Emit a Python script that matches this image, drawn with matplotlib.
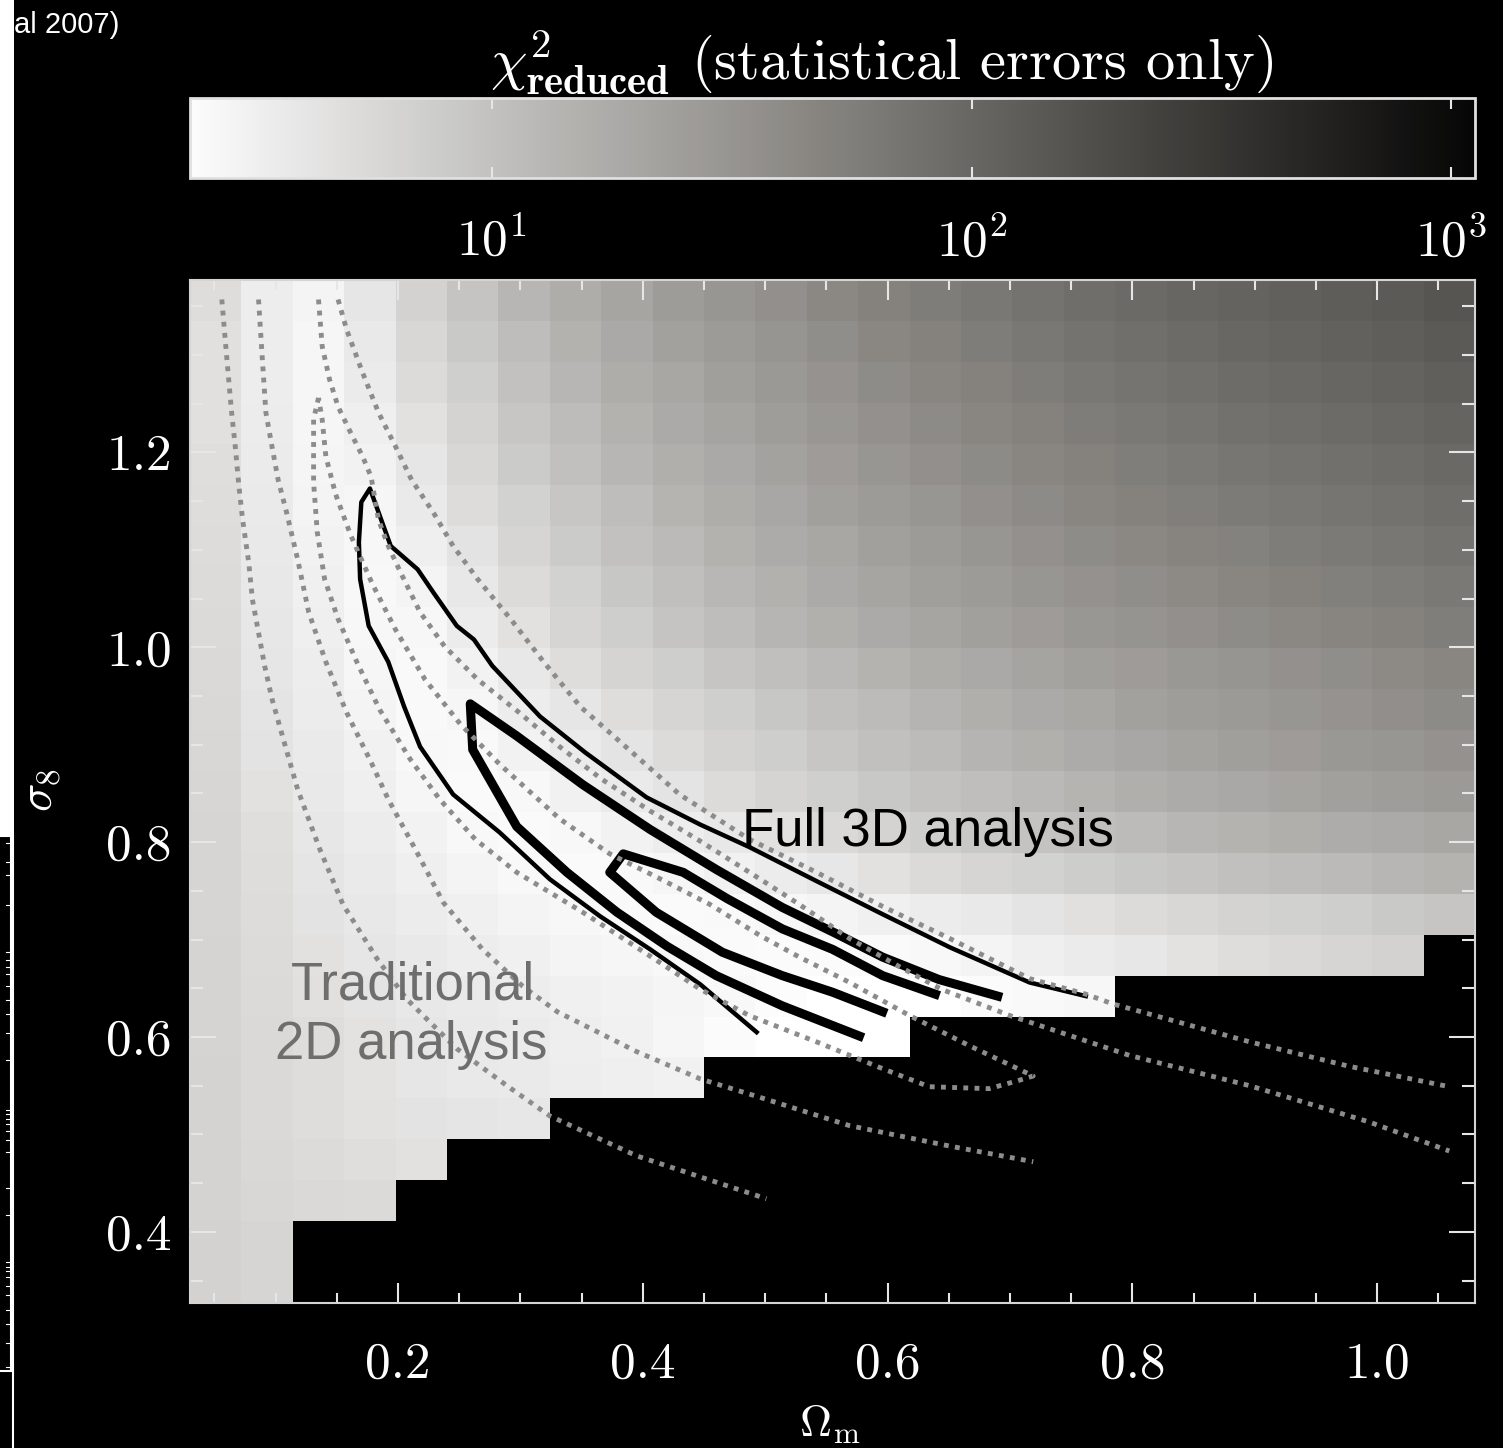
import numpy as np
import matplotlib.pyplot as plt
from matplotlib.colors import LogNorm, LinearSegmentedColormap
from matplotlib.patches import Rectangle
from matplotlib.lines import Line2D
from matplotlib.ticker import MultipleLocator, NullLocator

plt.rcParams['mathtext.fontset'] = 'cm'
plt.rcParams['axes.formatter.use_mathtext'] = True

nan = np.nan

# cell centres of the chi^2 grid
omega_m = np.round(0.051 + 0.042 * np.arange(25), 3)
sigma_8 = np.round(1.356 - 0.042 * np.arange(25), 3)   # top row first

# log10 chi^2_reduced, one row per sigma_8 value (top first), nan = excluded (black)
log_chi2 = [
    [0.70, 0.53, 0.46, 0.61, 0.82, 0.97, 1.12, 1.22, 1.32, 1.41, 1.48, 1.56, 1.64, 1.71, 1.77, 1.82, 1.87, 1.92, 1.97, 2.01, 2.04, 2.07, 2.10, 2.13, 2.19],
    [0.67, 0.53, 0.44, 0.57, 0.76, 0.92, 1.05, 1.17, 1.27, 1.36, 1.43, 1.50, 1.58, 1.65, 1.71, 1.77, 1.82, 1.87, 1.91, 1.96, 2.00, 2.03, 2.06, 2.09, 2.13],
    [0.67, 0.53, 0.44, 0.55, 0.72, 0.86, 1.00, 1.12, 1.22, 1.30, 1.38, 1.45, 1.53, 1.60, 1.66, 1.71, 1.77, 1.82, 1.86, 1.90, 1.95, 1.98, 2.01, 2.04, 2.08],
    [0.67, 0.54, 0.44, 0.51, 0.66, 0.81, 0.95, 1.06, 1.17, 1.25, 1.33, 1.40, 1.47, 1.55, 1.61, 1.66, 1.71, 1.77, 1.81, 1.85, 1.89, 1.92, 1.96, 1.99, 2.03],
    [0.69, 0.55, 0.45, 0.48, 0.61, 0.76, 0.90, 1.01, 1.12, 1.20, 1.27, 1.35, 1.42, 1.49, 1.56, 1.61, 1.66, 1.71, 1.76, 1.80, 1.84, 1.87, 1.90, 1.93, 1.98],
    [0.70, 0.56, 0.46, 0.44, 0.56, 0.71, 0.83, 0.95, 1.05, 1.15, 1.22, 1.29, 1.37, 1.43, 1.49, 1.56, 1.61, 1.66, 1.70, 1.75, 1.79, 1.82, 1.85, 1.88, 1.92],
    [0.71, 0.57, 0.48, 0.43, 0.51, 0.64, 0.78, 0.90, 1.00, 1.08, 1.17, 1.24, 1.30, 1.37, 1.43, 1.49, 1.55, 1.60, 1.64, 1.68, 1.72, 1.77, 1.80, 1.83, 1.87],
    [0.72, 0.59, 0.50, 0.42, 0.46, 0.59, 0.72, 0.83, 0.94, 1.03, 1.11, 1.18, 1.25, 1.32, 1.38, 1.43, 1.48, 1.54, 1.58, 1.62, 1.66, 1.70, 1.74, 1.77, 1.81],
    [0.73, 0.60, 0.51, 0.43, 0.43, 0.54, 0.66, 0.78, 0.87, 0.97, 1.05, 1.13, 1.19, 1.25, 1.32, 1.37, 1.42, 1.47, 1.51, 1.56, 1.60, 1.64, 1.67, 1.71, 1.76],
    [0.74, 0.61, 0.53, 0.44, 0.41, 0.48, 0.59, 0.70, 0.79, 0.87, 0.96, 1.03, 1.09, 1.16, 1.22, 1.27, 1.33, 1.38, 1.42, 1.46, 1.50, 1.55, 1.58, 1.62, 1.66],
    [0.75, 0.63, 0.54, 0.46, 0.41, 0.44, 0.53, 0.61, 0.70, 0.78, 0.86, 0.94, 1.01, 1.07, 1.14, 1.20, 1.25, 1.30, 1.36, 1.40, 1.44, 1.48, 1.53, 1.57, 1.61],
    [0.76, 0.64, 0.56, 0.49, 0.42, 0.41, 0.48, 0.55, 0.63, 0.72, 0.80, 0.87, 0.95, 1.01, 1.07, 1.14, 1.19, 1.24, 1.29, 1.34, 1.38, 1.42, 1.46, 1.49, 1.54],
    [0.77, 0.66, 0.58, 0.51, 0.44, 0.40, 0.42, 0.49, 0.56, 0.63, 0.72, 0.79, 0.86, 0.93, 0.99, 1.04, 1.09, 1.15, 1.20, 1.24, 1.28, 1.33, 1.37, 1.40, 1.44],
    [0.78, 0.69, 0.60, 0.54, 0.48, 0.42, 0.40, 0.42, 0.48, 0.53, 0.59, 0.66, 0.74, 0.81, 0.87, 0.93, 0.98, 1.03, 1.07, 1.12, 1.16, 1.20, 1.23, 1.26, 1.30],
    [0.78, 0.70, 0.62, 0.56, 0.51, 0.46, 0.42, 0.40, 0.41, 0.44, 0.49, 0.54, 0.60, 0.66, 0.73, 0.78, 0.83, 0.88, 0.93, 0.97, 1.01, 1.05, 1.08, 1.12, 1.16],
    [0.78, 0.71, 0.64, 0.59, 0.54, 0.50, 0.46, 0.43, 0.41, 0.40, 0.41, 0.43, 0.46, 0.50, 0.54, 0.58, 0.63, 0.67, 0.72, 0.76, 0.80, 0.84, 0.87, 0.92, 0.96],
    [0.79, 0.72, 0.66, 0.61, 0.57, 0.53, 0.50, 0.46, 0.44, 0.42, 0.40, 0.39, 0.39, 0.40, 0.42, 0.46, 0.51, 0.55, 0.60, 0.65, 0.70, 0.74, 0.78, 0.82, nan],
    [0.79, 0.73, 0.67, 0.63, 0.59, 0.56, 0.53, 0.50, 0.48, 0.45, 0.42, 0.38, 0.35, 0.35, 0.35, 0.39, 0.41, 0.43] + [nan] * 7,
    [0.79, 0.74, 0.70, 0.65, 0.61, 0.57, 0.55, 0.52, 0.49, 0.44, 0.39, 0.35, 0.35, 0.35] + [nan] * 11,
    [0.80, 0.74, 0.70, 0.65, 0.61, 0.58, 0.56, 0.53, 0.51, 0.49] + [nan] * 15,
    [0.80, 0.74, 0.70, 0.66, 0.64, 0.62, 0.60] + [nan] * 18,
    [0.80, 0.75, 0.72, 0.69, 0.66] + [nan] * 20,
    [0.81, 0.76, 0.74, 0.73] + [nan] * 21,
    [0.82, 0.78] + [nan] * 23,
    [0.82, 0.78] + [nan] * 23,
]

# full 3D analysis contours (omega_m, sigma_8)
outer_3d = [(0.493, 0.605), (0.447, 0.654), (0.406, 0.690), (0.365, 0.724), (0.324, 0.762),
            (0.283, 0.810), (0.245, 0.849), (0.218, 0.898), (0.205, 0.939), (0.192, 0.985),
            (0.176, 1.022), (0.169, 1.070), (0.168, 1.108), (0.170, 1.149), (0.177, 1.163),
            (0.194, 1.104), (0.216, 1.080), (0.229, 1.056), (0.248, 1.022), (0.262, 1.008),
            (0.277, 0.981), (0.316, 0.929), (0.353, 0.892), (0.403, 0.846), (0.447, 0.818),
            (0.487, 0.795), (0.542, 0.760), (0.596, 0.726), (0.651, 0.692), (0.716, 0.656),
            (0.762, 0.642)]
mid_3d = [(0.577, 0.601), (0.514, 0.632), (0.460, 0.663), (0.420, 0.693), (0.379, 0.728),
          (0.338, 0.769), (0.297, 0.816), (0.261, 0.895), (0.259, 0.942), (0.297, 0.909),
          (0.351, 0.859), (0.406, 0.813), (0.460, 0.772), (0.514, 0.733), (0.555, 0.708),
          (0.596, 0.682), (0.642, 0.659), (0.690, 0.642)]
inner_3d = [(0.596, 0.626), (0.555, 0.646), (0.514, 0.663), (0.465, 0.687), (0.411, 0.728),
            (0.373, 0.769), (0.384, 0.788), (0.433, 0.769), (0.469, 0.742), (0.514, 0.711),
            (0.555, 0.690), (0.596, 0.663), (0.639, 0.644)]

# traditional 2D analysis contours (dotted)
dot_a = [(0.056, 1.357), (0.060, 1.298), (0.064, 1.241), (0.067, 1.206), (0.070, 1.165),
         (0.073, 1.131), (0.078, 1.087), (0.081, 1.049), (0.086, 1.015), (0.091, 0.981),
         (0.097, 0.947), (0.108, 0.898), (0.118, 0.854), (0.136, 0.793), (0.155, 0.736),
         (0.183, 0.680), (0.207, 0.639), (0.248, 0.588), (0.289, 0.550), (0.324, 0.519),
         (0.395, 0.478), (0.501, 0.434)]
dot_b = [(0.086, 1.357), (0.089, 1.298), (0.092, 1.241), (0.097, 1.206), (0.102, 1.172),
         (0.109, 1.138), (0.118, 1.090), (0.127, 1.036), (0.141, 0.985), (0.158, 0.933),
         (0.178, 0.882), (0.192, 0.844), (0.214, 0.793), (0.237, 0.738), (0.269, 0.690),
         (0.302, 0.652), (0.330, 0.626), (0.395, 0.585), (0.447, 0.557), (0.501, 0.536),
         (0.569, 0.509), (0.651, 0.488), (0.719, 0.472)]
dot_c = [(0.135, 1.357), (0.138, 1.309), (0.144, 1.275), (0.151, 1.247), (0.161, 1.221),
         (0.171, 1.196), (0.178, 1.175), (0.184, 1.131), (0.192, 1.104), (0.202, 1.077),
         (0.218, 1.036), (0.238, 1.001), (0.265, 0.967), (0.299, 0.933), (0.332, 0.898),
         (0.366, 0.865), (0.406, 0.832), (0.447, 0.801), (0.496, 0.762), (0.528, 0.736),
         (0.569, 0.701), (0.610, 0.672), (0.644, 0.649), (0.700, 0.622), (0.798, 0.581),
         (0.896, 0.550), (0.993, 0.513), (1.059, 0.483)]
dot_d = [(0.151, 1.357), (0.158, 1.326), (0.171, 1.282), (0.184, 1.241), (0.198, 1.206),
         (0.211, 1.172), (0.229, 1.138), (0.245, 1.104), (0.265, 1.070), (0.292, 1.029),
         (0.319, 0.985), (0.349, 0.939), (0.386, 0.898), (0.430, 0.849), (0.487, 0.803),
         (0.542, 0.769), (0.596, 0.734), (0.651, 0.701), (0.716, 0.660), (0.762, 0.644),
         (0.784, 0.634), (0.896, 0.595), (0.977, 0.570), (1.059, 0.549)]
dot_e = [(0.135, 1.256), (0.131, 1.234), (0.131, 1.169), (0.134, 1.118), (0.140, 1.070),
         (0.151, 1.029), (0.167, 0.983), (0.185, 0.936), (0.210, 0.885), (0.234, 0.844),
         (0.263, 0.803), (0.297, 0.769), (0.351, 0.728), (0.406, 0.683), (0.447, 0.649),
         (0.487, 0.622), (0.542, 0.595), (0.593, 0.569), (0.634, 0.549), (0.683, 0.547),
         (0.706, 0.555), (0.719, 0.560), (0.667, 0.591), (0.618, 0.622), (0.569, 0.656),
         (0.528, 0.682), (0.496, 0.704), (0.455, 0.736), (0.410, 0.765), (0.373, 0.788),
         (0.332, 0.824), (0.283, 0.880), (0.251, 0.921), (0.222, 0.967), (0.198, 1.018),
         (0.179, 1.065), (0.161, 1.116), (0.149, 1.157), (0.141, 1.196), (0.138, 1.234),
         (0.135, 1.256)]

cbar_ticks = [10, 100, 1000]
cbar_labels = [r'$10^{1}$', r'$10^{2}$', r'$10^{3}$']
x_ticks = [0.2, 0.4, 0.6, 0.8, 1.0]
y_ticks = [0.4, 0.6, 0.8, 1.0, 1.2]

W, H = 1503, 1448
fig = plt.figure(figsize=(W / 100, H / 100), dpi=100, facecolor='black')
ax = fig.add_axes([190 / W, 145 / H, 1285 / W, 1023 / H])
cax = fig.add_axes([190 / W, 1270 / H, 1285 / W, 80 / H])

cmap = LinearSegmentedColormap.from_list(
    'greys', ['#fcfcfc', '#bebdbb', '#85827e', '#454340', '#060606'])
cmap.set_bad('black')
cmap.set_under('#ffffff')
norm = LogNorm(vmin=2.35, vmax=1120)

om_edges = np.append(omega_m - 0.021, omega_m[-1] + 0.021)
s8_edges = np.append(sigma_8 + 0.021, sigma_8[-1] - 0.021)
chi2 = np.ma.masked_invalid(10 ** np.array(log_chi2))
mesh = ax.pcolormesh(om_edges, s8_edges, chi2, cmap=cmap, norm=norm, shading='flat')

for path, lw in [(outer_3d, 3.2), (mid_3d, 6.5), (inner_3d, 6.5)]:
    xs, ys = zip(*path)
    ax.plot(xs, ys, color='black', lw=lw, solid_joinstyle='round', zorder=3)
for path in [dot_a, dot_b, dot_c, dot_d, dot_e]:
    xs, ys = zip(*path)
    ax.plot(xs, ys, color='#8c8c8c', lw=3.5, linestyle=(0, (1, 1.3)),
            dash_capstyle='butt', zorder=4)

ax.set_facecolor('black')
ax.set_xlim(0.03, 1.08)
ax.set_ylim(0.327, 1.377)
ax.set_xticks(x_ticks)
ax.set_xticklabels([f'{v:.1f}' for v in x_ticks], fontfamily='cmr10')
ax.set_yticks(y_ticks)
ax.set_yticklabels([f'{v:.1f}' for v in y_ticks], fontfamily='cmr10')
ax.xaxis.set_minor_locator(MultipleLocator(0.05))
ax.yaxis.set_minor_locator(MultipleLocator(0.05))
ax.tick_params(which='both', direction='in', top=True, right=True,
               color='#e6e6e6', width=1.5, labelsize=37, labelcolor='white')
ax.tick_params(axis='x', which='major', length=14.5, pad=28)
ax.tick_params(axis='x', which='minor', length=7.5)
ax.tick_params(axis='y', which='major', length=19, pad=13)
ax.tick_params(axis='y', which='minor', length=9.5)
for s in ax.spines.values():
    s.set_color('#d4d4d4')
    s.set_linewidth(1.5)

ax.text(0.481, 0.796, 'Full 3D analysis', fontsize=38, family='Liberation Sans',
        color='black', ha='left', va='baseline', zorder=5)
ax.text(0.212, 0.639, 'Traditional', fontsize=38, family='Liberation Sans',
        color='#6e6e6e', ha='center', va='baseline', zorder=5)
ax.text(0.211, 0.577, '2D analysis', fontsize=38, family='Liberation Sans',
        color='#6e6e6e', ha='center', va='baseline', zorder=5)

cb = fig.colorbar(mesh, cax=cax, orientation='horizontal')
cb.set_ticks(cbar_ticks)
cb.set_ticklabels(cbar_labels)
cax.xaxis.set_minor_locator(NullLocator())
cax.tick_params(axis='x', direction='in', top=True, bottom=True, length=8,
                width=1.5, color='#e6e6e6', labelsize=37, labelcolor='white', pad=28)
cb.outline.set_edgecolor('#e0e0e0')
cb.outline.set_linewidth(2)

fig.text(490 / W, 1 - 80 / H, r'$\chi^{2}_{\mathbf{reduced}}$ (statistical errors only)',
         fontsize=42, family='cmr10', color='white', ha='left', va='baseline')
fig.text(40 / W, 1 - 790 / H, r'$\sigma_8$', fontsize=34, color='white',
         rotation=90, ha='center', va='center')
fig.text(830 / W, 12 / H, r'$\Omega_{\rm m}$', fontsize=32, color='white',
         ha='center', va='baseline')

# remnants of neighbouring slide content at the left edge
fig.text(14 / W, 1 - 33 / H, 'al 2007)', fontsize=21, family='Liberation Sans',
         color='white', ha='left', va='baseline')
fig.add_artist(Rectangle((0, 1 - 836 / H), 14 / W, 836 / H, transform=fig.transFigure,
                         facecolor='white', edgecolor='none'))
fig.add_artist(Rectangle((-5 / W, 1 - 1371 / H), 16 / W, 535 / H, transform=fig.transFigure,
                         facecolor='black', edgecolor='white', lw=1.5))
fig.add_artist(Line2D([13 / W, 13 / W], [0, 1 - 836 / H], transform=fig.transFigure,
                      color='white', lw=1.5))
strip_ticks = [843, 862, 875, 905, 952, 960, 967, 974, 986, 1000, 1014, 1033, 1060,
               1110, 1114, 1119, 1124, 1131, 1140, 1152, 1188, 1215, 1262, 1267,
               1271, 1277, 1286, 1295, 1310, 1324, 1343, 1367]
for yt in strip_ticks:
    fig.add_artist(Line2D([6 / W, 11 / W], [1 - yt / H, 1 - yt / H],
                          transform=fig.transFigure, color='white', lw=0.8))

fig.savefig('out.png', dpi=100, facecolor='black')
